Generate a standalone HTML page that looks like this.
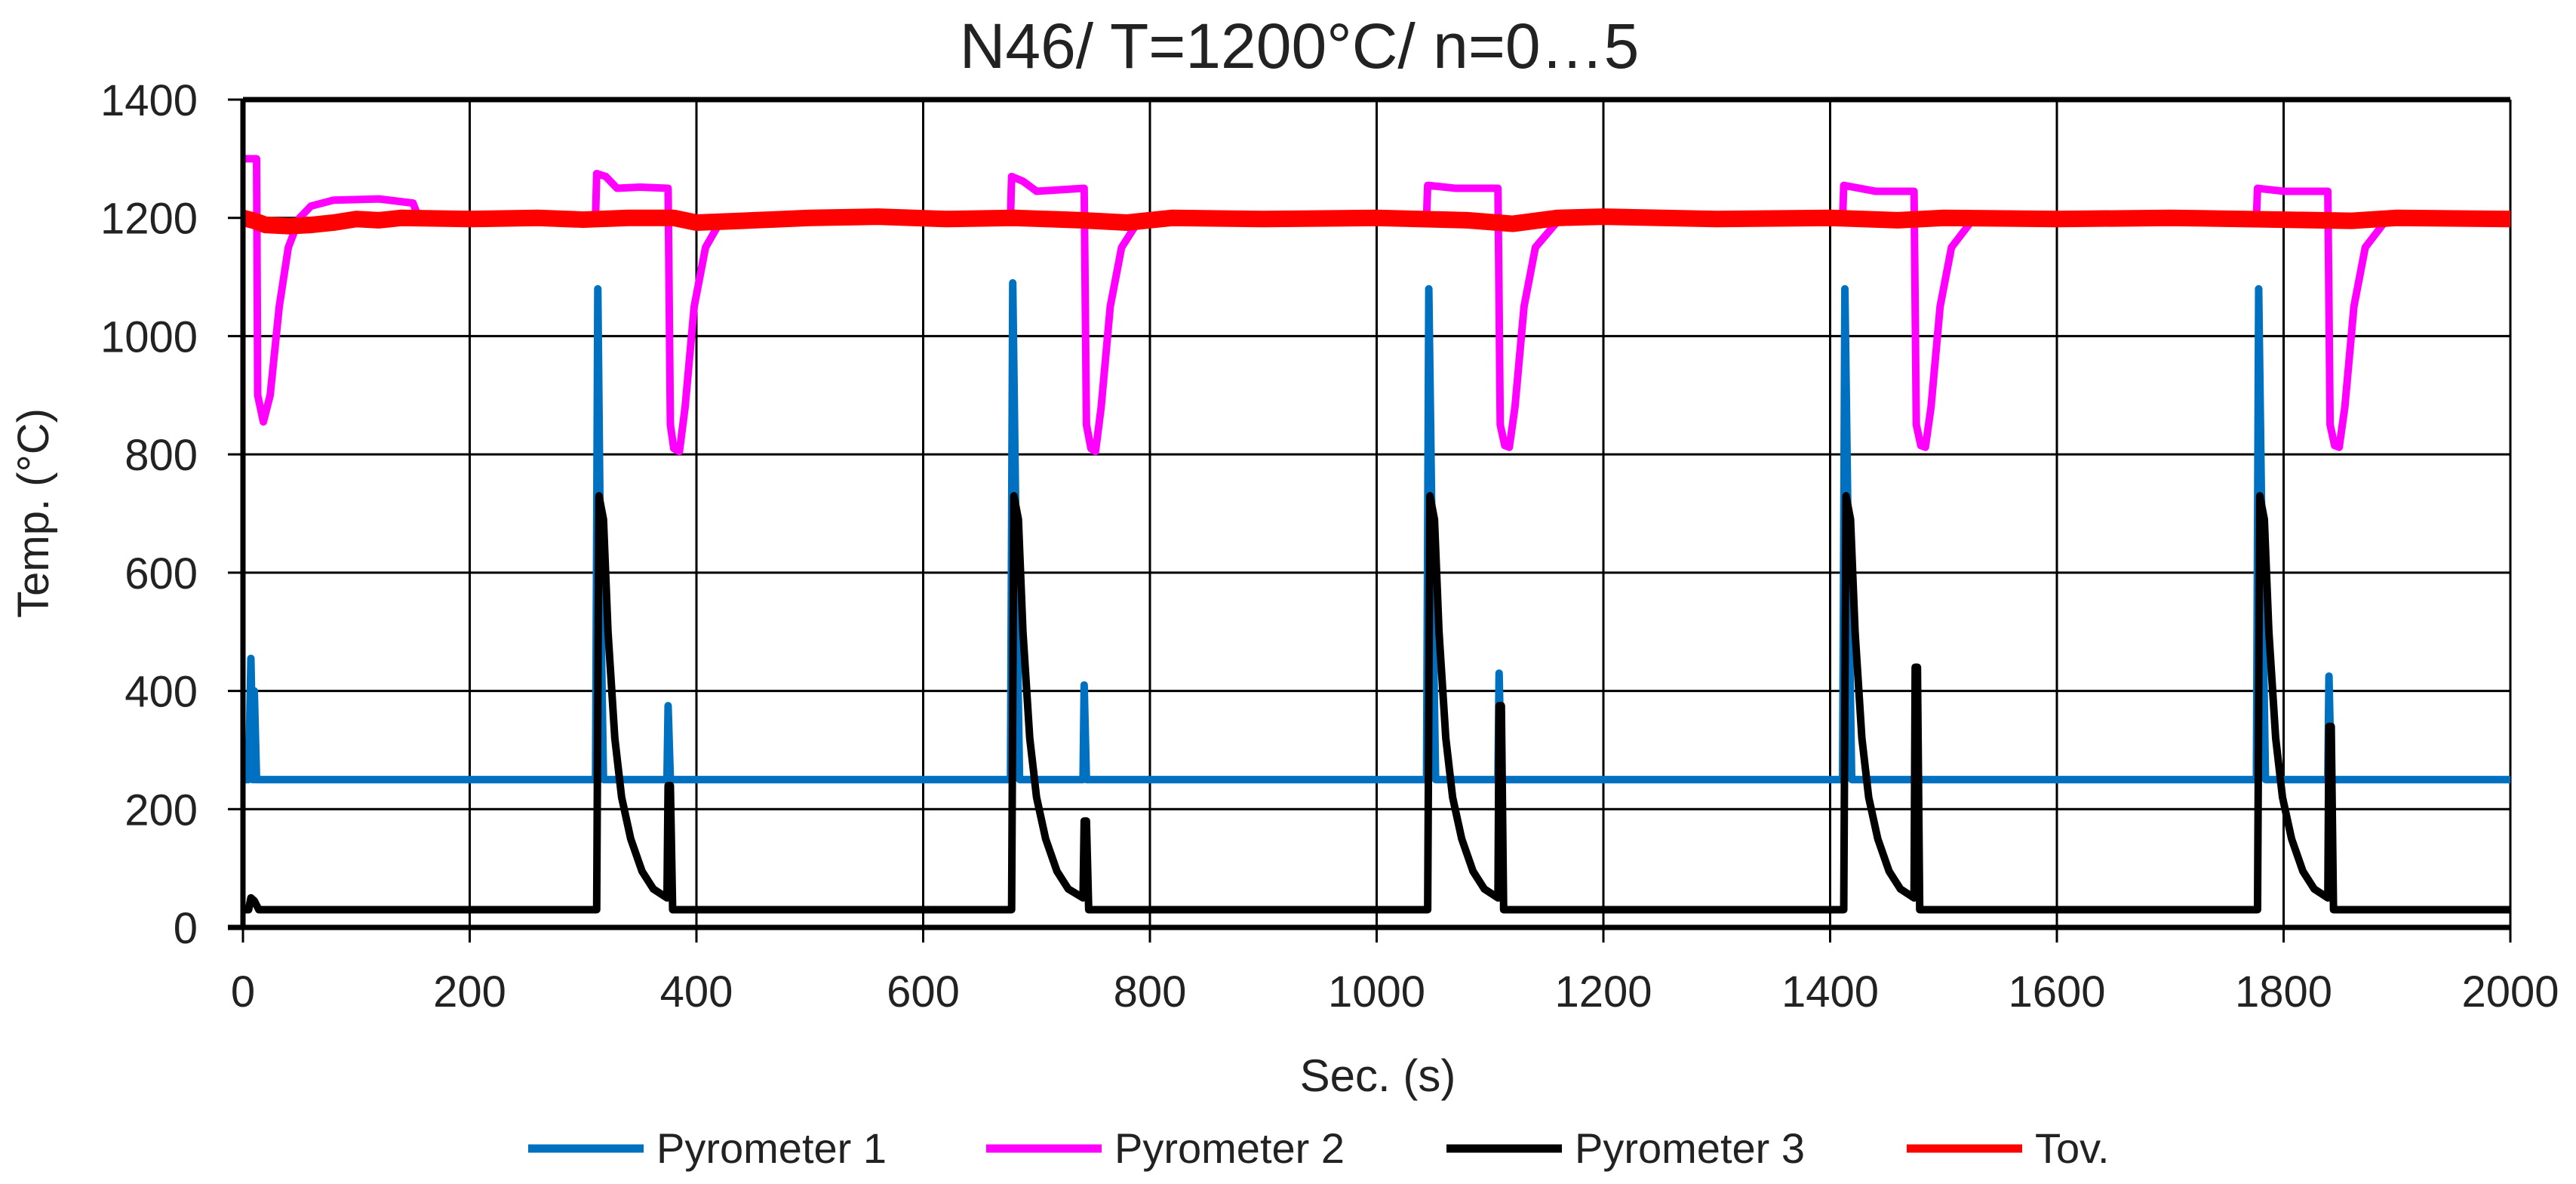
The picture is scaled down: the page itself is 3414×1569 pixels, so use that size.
<!DOCTYPE html>
<html><head><meta charset="utf-8"><style>
html,body{margin:0;padding:0;background:#fff;}
svg{display:block;font-family:"Liberation Sans",sans-serif;}
</style></head><body>
<svg id="chart" width="3414" height="1569" viewBox="0 0 3414 1569" xmlns="http://www.w3.org/2000/svg">
<rect width="3414" height="1569" fill="#fff"/>
<text x="1722" y="90" font-size="84" text-anchor="middle" fill="#222">N46/ T=1200°C/ n=0…5</text>
<g id="grid"></g>
<g id="series"></g>
<g id="axes"></g>
<text transform="translate(64,680) rotate(-90)" font-size="58" text-anchor="middle" fill="#222">Temp. (°C)</text>
<text x="1826" y="1446" font-size="60" text-anchor="middle" fill="#222">Sec. (s)</text>
<g id="legend"></g>
</svg>
<script>
const xTicks=[0,200,400,600,800,1000,1200,1400,1600,1800,2000];
const yTicks=[0,200,400,600,800,1000,1200,1400];
const p1=[[0,250],[5,250],[7,455],[9,250],[10,400],[12,250],[311,250],[313,1080],[316,500],[318,250],[374,250],[375,375],[377,250],[677,250],[679,1090],[683,500],[685,250],[741,250],[742,410],[744,250],[1044,250],[1046,1080],[1050,500],[1052,250],[1107,250],[1108,430],[1110,250],[1411,250],[1413,1080],[1417,500],[1419,250],[1776,250],[1778,1080],[1782,500],[1784,250],[1839,250],[1840,425],[1842,250],[2000,250]];
const p2=[[0,1300],[12,1300],[13,900],[18,855],[24,900],[32,1050],[40,1150],[50,1200],[60,1220],[80,1230],[120,1232],[150,1225],[155,1200],[311,1200],[312,1275],[320,1270],[330,1250],[350,1252],[375,1250],[377,850],[380,810],[385,805],[390,880],[398,1050],[408,1150],[420,1190],[440,1195],[677,1200],[678,1270],[688,1262],[700,1245],[742,1250],[744,850],[748,810],[752,805],[757,880],[765,1050],[775,1150],[790,1195],[1044,1200],[1045,1255],[1070,1250],[1107,1250],[1109,850],[1113,815],[1117,812],[1122,880],[1130,1050],[1140,1150],[1160,1195],[1411,1200],[1412,1255],[1440,1245],[1474,1245],[1476,850],[1480,815],[1484,812],[1489,880],[1497,1050],[1507,1150],[1525,1195],[1776,1200],[1777,1250],[1800,1245],[1839,1245],[1841,850],[1845,815],[1849,812],[1854,880],[1862,1050],[1872,1150],[1890,1195],[2000,1195]];
const p3=[[0,30],[5,30],[7,50],[10,45],[14,30],[311,30],[312,30],[314,730],[318,690],[322,500],[328,320],[334,220],[342,150],[352,95],[362,65],[374,50],[375,240],[377,240],[379,30],[677,30],[678,30],[680,730],[684,690],[688,500],[694,320],[700,220],[708,150],[718,95],[728,65],[741,50],[742,180],[744,180],[746,30],[1044,30],[1045,30],[1047,730],[1051,690],[1055,500],[1061,320],[1067,220],[1075,150],[1085,95],[1095,65],[1107,50],[1108,375],[1110,375],[1112,30],[1411,30],[1412,30],[1414,730],[1418,690],[1422,500],[1428,320],[1434,220],[1442,150],[1452,95],[1462,65],[1474,50],[1475,440],[1477,440],[1479,30],[1776,30],[1777,30],[1779,730],[1783,690],[1787,500],[1793,320],[1799,220],[1807,150],[1817,95],[1827,65],[1839,50],[1840,340],[1842,340],[1844,30],[2000,30]];
const tov=[[0,1200],[10,1195],[20,1188],[40,1186],[60,1188],[80,1192],[100,1198],[120,1196],[140,1200],[200,1198],[260,1200],[300,1197],[340,1200],[380,1200],[400,1192],[440,1195],[500,1200],[560,1202],[620,1198],[680,1200],[740,1196],[780,1192],[820,1200],[900,1198],[1000,1200],[1080,1196],[1120,1190],[1160,1200],[1200,1202],[1300,1198],[1400,1200],[1460,1196],[1500,1200],[1600,1198],[1700,1200],[1800,1197],[1860,1195],[1900,1200],[2000,1198]];
const series=[{name:"Pyrometer 1",data:p1,color:"#0070c0",w:10},{name:"Pyrometer 2",data:p2,color:"#ff00ff",w:10},{name:"Pyrometer 3",data:p3,color:"#000",w:10},{name:"Tov.",data:tov,color:"#ff0000",w:22}];
const X0=322,X1=3327,Y0=1229,Y1=132;
const xs=t=>X0+t*(X1-X0)/2000, ys=v=>Y0-v*(Y0-Y1)/1400;
const NS="http://www.w3.org/2000/svg";
function mk(tag,attrs,parent){const e=document.createElementNS(NS,tag);for(const k in attrs)e.setAttribute(k,attrs[k]);parent.appendChild(e);return e;}
const grid=document.getElementById('grid'),axes=document.getElementById('axes'),ser=document.getElementById('series'),leg=document.getElementById('legend');
xTicks.forEach(t=>{const l=mk('line',{x1:xs(t),x2:xs(t),y1:Y1,y2:Y0+20,stroke:'#000','stroke-width':3},grid);


const tx=mk('text',{x:xs(t),y:1334,'font-size':58,'text-anchor':'middle',fill:'#222'},axes);tx.textContent=t;

});
yTicks.forEach(v=>{const l=mk('line',{x1:X0-20,x2:X1,y1:ys(v),y2:ys(v),stroke:'#000','stroke-width':3},grid);


const tx=mk('text',{x:262,y:ys(v)+21,'font-size':58,'text-anchor':'end',fill:'#222'},axes);tx.textContent=v;

});
const ax=mk('path',{d:`M${X0} ${Y1}H${X1}M${X0} ${Y1}V${Y0}M${X0-20} ${Y0}H${X1}`,stroke:'#000','stroke-width':7,fill:'none'},axes);


series.forEach(s=>{const p=mk('polyline',{points:s.data.map(d=>xs(d[0])+','+ys(d[1])).join(' '),fill:'none',stroke:s.color,'stroke-width':s.w,'stroke-linejoin':'round'},ser);

});
const lx=[700,1307,1917,2527];
series.forEach((s,i)=>{const l=mk('line',{x1:lx[i],x2:lx[i]+153,y1:1522,y2:1522,stroke:s.color,'stroke-width':11},leg);


const t=mk('text',{x:lx[i]+170,y:1541,'font-size':56,fill:'#222'},leg);t.textContent=s.name;

});
</script>
</body></html>
